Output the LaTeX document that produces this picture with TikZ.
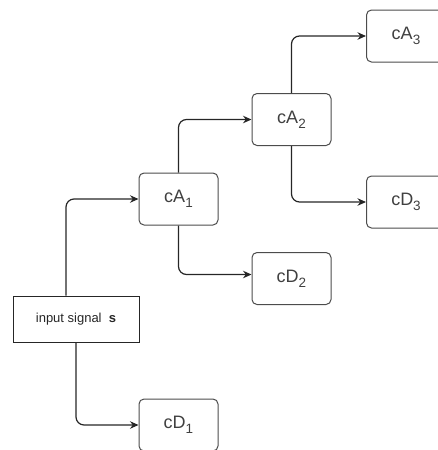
\documentclass[tikz,border=0pt]{standalone}
\usepackage{fontspec}
\setmainfont{Liberation Sans}
\usetikzlibrary{arrows.meta}
\newcommand\subidx[1]{\raisebox{-0.28em}{\fontsize{13.5}{14}\selectfont #1}}
\begin{document}
\begin{tikzpicture}[x=1pt,y=-1pt,
  box/.style={draw=black!70,line width=1pt,rounded corners=5pt,minimum width=79pt,minimum height=52pt,inner sep=0pt,text=black!75,font=\fontsize{18}{20}\selectfont},
  inbox/.style={draw=black!85,line width=1pt,minimum width=126pt,minimum height=46pt,inner sep=0pt,text=black!85,font=\fontsize{13}{15}\selectfont},
  conn/.style={draw=black!85,line width=1.2pt,rounded corners=8pt,-{Stealth[length=8.5pt,width=7.5pt]}}]
\useasboundingbox (0,0) rectangle (438,450);
\node[inbox] (inp) at (76,319) {input signal\ \ \textbf{s}};
\node[box] (cA1) at (178.5,199) {cA\subidx{1}};
\node[box] (cA2) at (291.5,119.5) {cA\subidx{2}};
\node[box] (cA3) at (406,36) {cA\subidx{3}};
\node[box] (cD3) at (406,202) {cD\subidx{3}};
\node[box] (cD2) at (291.5,278.5) {cD\subidx{2}};
\node[box] (cD1) at (178.5,425) {cD\subidx{1}};
\draw[conn] ([xshift=-10pt]inp.north) |- (cA1.west);
\draw[conn] (inp.south) |- (cD1.west);
\draw[conn] (cA1.north) |- (cA2.west);
\draw[conn] (cA1.south) |- ([yshift=4pt]cD2.west);
\draw[conn] (cA2.north) |- (cA3.west);
\draw[conn] (cA2.south) |- (cD3.west);
\end{tikzpicture}
\end{document}
